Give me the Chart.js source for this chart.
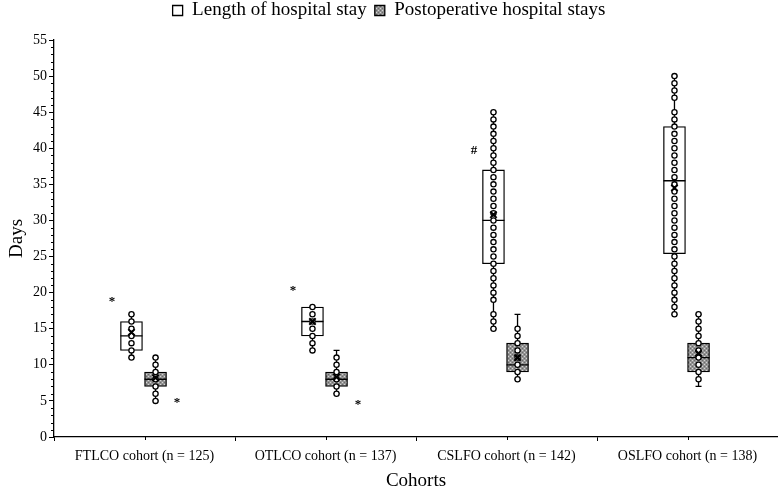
<!DOCTYPE html>
<html lang="en">
<head>
<meta charset="UTF-8">
<title>Hospital stay by cohort</title>
<script src="https://cdn.jsdelivr.net/npm/chart.js"></script>
<style>
  html, body { margin: 0; padding: 0; background: #fff; }
  #wrap { width: 778px; height: 495px; }
</style>
</head>
<body>
<div id="wrap"><canvas id="stayChart"></canvas></div>
<script>
const cohorts = ['FTLCO cohort (n = 125)', 'OTLCO cohort (n = 137)', 'CSLFO cohort (n = 142)', 'OSLFO cohort (n = 138)'];

// Length of hospital stay (days)
const losMin = [11, 12, 15, 17];
const losQ1 = [12, 14, 24, 25.4];
const losMedian = [14, 16, 30, 35.5];
const losQ3 = [16, 18, 37, 43];
const losMax = [17, 18, 45, 50];
const losMean = [14.5, 16, 30.8, 34.5];
const losPoints = [
  [11, 12, 13, 14, 15, 16, 17],
  [12, 13, 14, 15, 16, 17, 18],
  [15, 16, 17, 19, 20, 21, 22, 23, 24, 25, 26, 27, 28, 29, 30, 31, 32, 33, 34, 35, 36, 37, 38, 39, 40, 41, 42, 43, 44, 45],
  [17, 18, 19, 20, 21, 22, 23, 24, 25, 26, 27, 28, 29, 30, 31, 32, 33, 34, 35, 36, 37, 38, 39, 40, 41, 42, 43, 44, 45, 47, 48, 49, 50]
];

// Postoperative hospital stays (days)
const postMin = [5, 6, 8, 7];
const postQ1 = [7, 7, 9, 9];
const postMedian = [8, 8, 10, 11];
const postQ3 = [9, 9, 13, 13];
const postMax = [11, 12, 17, 17];
const postMean = [8.2, 8.3, 11, 11.6];
const postPoints = [
  [5, 6, 7, 8, 9, 10, 11],
  [6, 7, 8, 9, 10, 11],
  [8, 9, 10, 11, 12, 13, 14, 15],
  [8, 9, 10, 11, 12, 13, 14, 15, 16, 17]
];

// significance marks
const markSymbols = ['*', '*', '*', '*', '#'];
const markCohort = [0, 0, 1, 1, 2];
const markValue = [19, 5, 20.5, 4.8, 40];
const markSide = [-1, 1, -1, 1, -1];

const serif = 'Liberation Serif';
const losShift = -0.072;   // box centre offsets, in category units
const postShift = 0.061;

const canvas = document.getElementById('stayChart');
const tile = document.createElement('canvas');
tile.width = 4; tile.height = 4;
const tctx = tile.getContext('2d');
tctx.fillStyle = '#949494'; tctx.fillRect(0, 0, 4, 4);
tctx.fillStyle = '#d4d4d4'; tctx.fillRect(0, 0, 1, 1); tctx.fillRect(2, 2, 1, 1);
tctx.fillStyle = '#6a6a6a'; tctx.fillRect(2, 0, 1, 1); tctx.fillRect(0, 2, 1, 1);
const stipple = canvas.getContext('2d').createPattern(tile, 'repeat');

function pointsFor(lists, shift) {
  const out = [];
  lists.forEach((vals, i) => vals.forEach(v => out.push({ x: i + shift, y: v })));
  return out;
}

const boxParts = {
  id: 'boxParts',
  beforeInit(chart) {
    const lg = chart.legend;
    const fit = lg.fit;
    lg.fit = function () { fit.call(this); this.height = 40; };
  },
  afterLayout(chart) {
    chart.legend.top -= 7;
  },
  afterDatasetDraw(chart, args) {
    if (args.index !== 0) return;
    const ctx = chart.ctx, y = chart.scales.y;
    const sets = [[losMin, losQ1, losMedian, losQ3, losMax], [postMin, postQ1, postMedian, postQ3, postMax]];
    ctx.save();
    ctx.strokeStyle = '#000';
    ctx.lineWidth = 1.3;
    sets.forEach((s, di) => {
      chart.getDatasetMeta(di).data.forEach((bar, i) => {
        const x = bar.x, half = bar.width / 2;
        const p = s.map(arr => y.getPixelForValue(arr[i]));
        ctx.beginPath();
        ctx.moveTo(x, p[1]); ctx.lineTo(x, p[0]);
        ctx.moveTo(x, p[3]); ctx.lineTo(x, p[4]);
        ctx.moveTo(x - 3, p[0]); ctx.lineTo(x + 3, p[0]);
        ctx.moveTo(x - 3, p[4]); ctx.lineTo(x + 3, p[4]);
        ctx.moveTo(x - half, p[2]); ctx.lineTo(x + half, p[2]);
        ctx.stroke();
      });
    });
    ctx.restore();
  },
  afterDraw(chart) {
    const ctx = chart.ctx, y = chart.scales.y, x2 = chart.scales.x2, x = chart.scales.x;
    const area = chart.chartArea;
    ctx.save();
    ctx.strokeStyle = '#000';
    ctx.lineWidth = 1;
    ctx.beginPath();
    for (let v = 0; v <= 55; v++) {
      if (v % 5 === 0) continue;
      const py = Math.round(y.getPixelForValue(v)) + 0.5;
      ctx.moveTo(area.left - 3, py); ctx.lineTo(area.left, py);
    }
    cohorts.forEach((c, i) => {
      const px = Math.round(x.getPixelForValue(i)) + 0.5;
      ctx.moveTo(px, area.bottom); ctx.lineTo(px, area.bottom + 3);
    });
    ctx.stroke();
    ctx.fillStyle = '#000';
    ctx.font = 'bold 13px "' + serif + '"';
    ctx.textAlign = 'center';
    ctx.textBaseline = 'middle';
    markSymbols.forEach((s, k) => {
      const px = x2.getPixelForValue(markCohort[k] + markSide[k] * 0.18);
      ctx.fillText(s, px, y.getPixelForValue(markValue[k]) + 2);
    });
    ctx.restore();
  }
};

const boxStyle = {
  borderColor: '#000',
  borderWidth: 1.3,
  borderSkipped: false,
  grouped: false,
  barThickness: 22,
  xAxisID: 'x2',
  order: 10
};
const dotStyle = {
  type: 'scatter',
  xAxisID: 'x2',
  pointStyle: 'circle',
  pointRadius: 2.6,
  pointBorderWidth: 1.3,
  pointBackgroundColor: '#fff',
  pointBorderColor: '#000',
  order: 1
};

new Chart(canvas, {
  type: 'bar',
  data: {
    labels: cohorts,
    datasets: [
      Object.assign({
        label: 'Length of hospital stay',
        data: losQ1.map((v, i) => ({ x: i + losShift, y: [v, losQ3[i]] })),
        backgroundColor: '#fff'
      }, boxStyle),
      Object.assign({
        label: 'Postoperative hospital stays',
        data: postQ1.map((v, i) => ({ x: i + postShift, y: [v, postQ3[i]] })),
        backgroundColor: stipple
      }, boxStyle),
      Object.assign({ label: 'los points', data: pointsFor(losPoints, losShift) }, dotStyle),
      Object.assign({ label: 'post points', data: pointsFor(postPoints, postShift) }, dotStyle),
      {
        type: 'scatter',
        label: 'means',
        data: losMean.map((v, i) => ({ x: i + losShift, y: v })).concat(postMean.map((v, i) => ({ x: i + postShift, y: v }))),
        xAxisID: 'x2',
        pointStyle: 'crossRot',
        pointRadius: 4.5,
        pointBorderWidth: 2,
        pointBorderColor: '#000',
        order: 0
      }
    ]
  },
  options: {
    responsive: true,
    maintainAspectRatio: false,
    animation: false,
    layout: { autoPadding: false, padding: 0 },
    plugins: {
      tooltip: { enabled: false },
      legend: {
        position: 'top',
        labels: {
          filter: item => item.datasetIndex < 2,
          color: '#000',
          font: { family: serif, size: 19 },
          boxWidth: 10,
          boxHeight: 10,
          padding: 8
        }
      }
    },
    scales: {
      x: {
        type: 'category',
        offset: true,
        grid: { display: true, drawOnChartArea: false, tickLength: 4, color: '#000', offset: true },
        border: { color: '#000', width: 1.3 },
        ticks: { color: '#000', font: { family: serif, size: 14 }, maxRotation: 0, padding: 7 },
        title: { display: true, text: 'Cohorts', color: '#000', font: { family: serif, size: 19 }, padding: { top: 2, bottom: 3 } },
        afterFit: s => { s.height = 58; }
      },
      x2: { type: 'linear', min: -0.5, max: 3.5, offset: false, display: false },
      y: {
        min: 0,
        max: 55,
        ticks: { stepSize: 5, color: '#000', font: { family: serif, size: 14 }, padding: 2 },
        grid: { drawOnChartArea: false, tickLength: 5, color: '#000' },
        border: { color: '#000', width: 1.3 },
        title: { display: true, text: 'Days', color: '#000', font: { family: serif, size: 19 }, padding: { top: 6, bottom: 4 } },
        afterFit: s => { s.width = 54; }
      }
    }
  },
  plugins: [boxParts]
});
</script>
</body>
</html>
